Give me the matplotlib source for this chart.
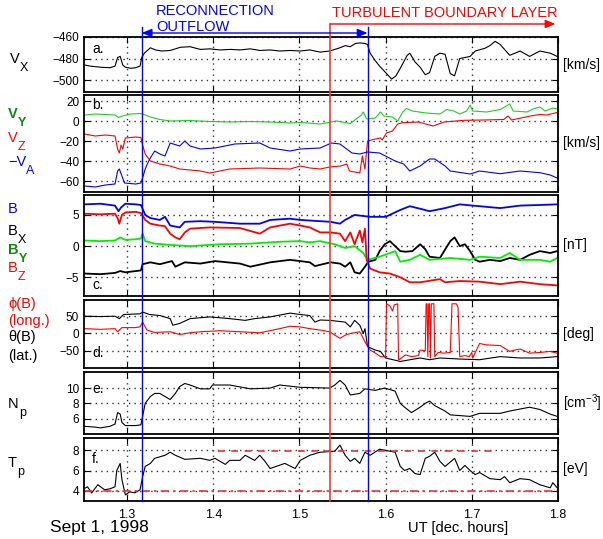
import numpy as np
import matplotlib
matplotlib.use('Agg')
import matplotlib.pyplot as plt
import matplotlib.transforms as mtrans
from matplotlib.lines import Line2D
from matplotlib.patches import FancyArrowPatch

plt.rcParams['font.family'] = ['Liberation Sans', 'DejaVu Sans']
plt.rcParams['mathtext.fontset'] = 'custom'
plt.rcParams['mathtext.rm'] = 'Liberation Sans'
plt.rcParams['mathtext.it'] = 'Liberation Sans'
plt.rcParams['mathtext.bf'] = 'Liberation Sans:bold'
plt.rcParams['axes.unicode_minus'] = True

# event times (UT, decimal hours)
t_out_start = 1.317
t_out_end = 1.579
t_tbl_start = 1.536
t_tbl_end = 1.797

# panel a: Vx
t_vx = [1.251, 1.257, 1.269, 1.280, 1.286, 1.289, 1.292, 1.295, 1.298, 1.304, 1.310, 1.315, 1.317, 1.320,
        1.327, 1.333, 1.340, 1.350, 1.362, 1.373, 1.385, 1.396, 1.408, 1.420, 1.431, 1.443, 1.454, 1.466,
        1.477, 1.489, 1.501, 1.512, 1.524, 1.535, 1.547, 1.553, 1.559, 1.565, 1.570, 1.576, 1.579, 1.582,
        1.588, 1.593, 1.600, 1.607, 1.612, 1.617, 1.625, 1.628, 1.634, 1.640, 1.646, 1.651, 1.657, 1.663,
        1.669, 1.675, 1.680, 1.686, 1.698, 1.704, 1.715, 1.721, 1.727, 1.733, 1.744, 1.756, 1.767, 1.779,
        1.791, 1.799]
vx = [-486, -487, -488, -488.5, -487, -479, -478, -486, -488, -489, -488.5, -487, -479, -475,
      -470, -472, -473, -472.5, -469.5, -469, -471.5, -471, -472, -471.5, -472, -471, -472.5, -472,
      -473, -472.5, -473, -472, -474, -473, -470, -468, -469, -466, -465.5, -466, -467, -475,
      -482, -487, -493, -499, -496, -489, -477, -475, -483, -488, -495, -493, -478, -475,
      -476, -494, -496, -480, -478, -473, -470.5, -468, -464, -467, -477, -473, -478, -473,
      -475, -478]

# panel b: Vy, Vz, -VA
t_vy = [1.251, 1.263, 1.275, 1.286, 1.290, 1.295, 1.304, 1.315, 1.318, 1.327, 1.338, 1.350, 1.373, 1.396,
        1.420, 1.443, 1.466, 1.489, 1.501, 1.524, 1.543, 1.559, 1.572, 1.574, 1.578, 1.588, 1.594, 1.598,
        1.608, 1.614, 1.620, 1.624, 1.631, 1.647, 1.663, 1.671, 1.679, 1.686, 1.694, 1.698, 1.701, 1.717,
        1.733, 1.744, 1.748, 1.764, 1.771, 1.779, 1.785, 1.794, 1.799]
vy = [6, 7, 6.5, 6, 3.5, 5, 7, 7.5, 7, 4, 1.5, 0, 0.5, -0.5,
      -1, -0.5, -1, -2, -1.5, -3, 0, -2.5, 6, 9, 2, 3, 9, 5,
      4, 0, 9, 12.5, 10, 8, 7, 11.5, 10, 7, 10, 16, 10, 9,
      11.5, 17, 10, 9, 12, 14, 10, 13, 12]

t_vz = [1.251, 1.263, 1.275, 1.286, 1.289, 1.291, 1.293, 1.295, 1.298, 1.310, 1.316, 1.318, 1.321, 1.327,
        1.338, 1.350, 1.361, 1.385, 1.396, 1.419, 1.454, 1.489, 1.501, 1.512, 1.524, 1.535, 1.548, 1.555,
        1.558, 1.570, 1.573, 1.576, 1.579, 1.588, 1.594, 1.596, 1.601, 1.608, 1.614, 1.620, 1.638, 1.655,
        1.668, 1.691, 1.714, 1.737, 1.742, 1.746, 1.768, 1.779, 1.787, 1.799]
vz = [-13, -15, -14, -15, -28, -32, -24, -28, -17, -16, -16.5, -24, -33, -40,
      -43, -45, -48, -50, -52, -48, -47, -48, -45, -47, -48, -46, -45, -43,
      -50, -52, -35, -48, -20, -18, -17, -19, -12, -10, -3, -1.7, -1, -5,
      -1, 0.7, 1, 1.5, 5, 1, 5, 6.5, 6, 8.5]

t_va = [1.251, 1.263, 1.275, 1.286, 1.289, 1.291, 1.294, 1.297, 1.310, 1.316, 1.318, 1.321, 1.324, 1.327,
        1.332, 1.338, 1.344, 1.350, 1.361, 1.367, 1.373, 1.385, 1.402, 1.425, 1.454, 1.466, 1.489, 1.501,
        1.524, 1.537, 1.547, 1.561, 1.570, 1.579, 1.593, 1.611, 1.621, 1.628, 1.640, 1.651, 1.657, 1.669,
        1.675, 1.698, 1.709, 1.733, 1.756, 1.779, 1.791, 1.799]
va = [-65, -66, -64, -63, -50, -48, -55, -62, -63, -62, -57, -48, -42, -37,
      -30, -33, -35, -22, -25, -20, -25, -28, -27, -23, -22, -27, -30, -28,
      -27, -22, -23, -32, -33, -31, -32, -40, -43, -50, -45, -38, -38, -45,
      -50, -53, -50, -52.7, -50, -51.7, -54, -57]

# panel c: |B|, Bx, By, Bz
t_bt = [1.251, 1.269, 1.286, 1.290, 1.293, 1.298, 1.310, 1.316, 1.318, 1.321, 1.327, 1.338, 1.344, 1.350,
        1.361, 1.367, 1.385, 1.402, 1.431, 1.454, 1.466, 1.489, 1.501, 1.524, 1.536, 1.547, 1.553, 1.564,
        1.582, 1.600, 1.617, 1.628, 1.640, 1.651, 1.669, 1.686, 1.709, 1.733, 1.756, 1.779, 1.799]
bt = [6.7, 6.8, 6.5, 5.6, 6.2, 6.8, 6.7, 6.6, 6.0, 5.0, 4.5, 4.2, 4.7, 3.3,
      3.0, 3.9, 4.0, 3.9, 3.6, 3.6, 4.2, 4.4, 4.2, 4.0, 3.9, 3.6, 4.2, 5.0,
      4.7, 4.7, 5.8, 6.4, 6.0, 5.6, 6.1, 6.7, 6.4, 6.1, 6.5, 6.6, 6.7]

t_bz = [1.251, 1.269, 1.286, 1.289, 1.291, 1.294, 1.298, 1.310, 1.316, 1.318, 1.321, 1.327, 1.338, 1.344,
        1.350, 1.356, 1.361, 1.367, 1.373, 1.396, 1.431, 1.454, 1.466, 1.489, 1.501, 1.512, 1.524, 1.536,
        1.547, 1.553, 1.559, 1.564, 1.570, 1.573, 1.576, 1.578, 1.582, 1.593, 1.605, 1.617, 1.628, 1.640,
        1.663, 1.669, 1.686, 1.709, 1.733, 1.756, 1.779, 1.799]
bz = [5.2, 5.1, 5.2, 4.5, 3.6, 5.0, 5.4, 5.5, 5.3, 4.9, 4.2, 3.6, 3.3, 3.2,
      2.0, 1.4, 1.1, 2.2, 2.8, 3.0, 2.9, 2.0, 3.0, 3.6, 3.3, 3.0, 2.2, 2.2,
      2.0, 0.8, 2.2, 0.3, 2.5, 0.6, 2.8, -2.2, -3.6, -4.2, -4.4, -5.0, -5.8, -5.8,
      -5.3, -5.8, -5.6, -5.7, -6.1, -5.7, -6.1, -6.3]

t_by = [1.251, 1.269, 1.286, 1.292, 1.298, 1.310, 1.316, 1.318, 1.321, 1.332, 1.350, 1.373, 1.408, 1.443,
        1.477, 1.501, 1.512, 1.524, 1.541, 1.553, 1.564, 1.574, 1.579, 1.593, 1.605, 1.611, 1.617, 1.628,
        1.640, 1.651, 1.675, 1.698, 1.709, 1.733, 1.744, 1.756, 1.779, 1.791, 1.799]
by = [0.9, 0.8, 0.9, 1.4, 1.0, 1.1, 1.2, 2.0, 0.8, 0.4, 0.2, 0.0, 0.3, 0.4,
      0.7, 0.8, 0.6, 0.8, 0.3, -0.3, 0.0, -1.1, -2.2, -1.7, -1.1, -0.8, -2.5, -2.2,
      -1.4, -2.2, -1.9, -2.2, -1.7, -1.9, -1.1, -2.2, -2.2, -2.5, -1.9]

t_bx = [1.251, 1.269, 1.286, 1.292, 1.298, 1.310, 1.316, 1.318, 1.327, 1.338, 1.352, 1.356, 1.367, 1.385,
        1.402, 1.431, 1.443, 1.466, 1.489, 1.501, 1.512, 1.518, 1.536, 1.547, 1.553, 1.559, 1.564, 1.570,
        1.576, 1.580, 1.588, 1.593, 1.599, 1.605, 1.611, 1.617, 1.623, 1.631, 1.640, 1.646, 1.651, 1.663,
        1.675, 1.680, 1.686, 1.692, 1.698, 1.704, 1.709, 1.721, 1.733, 1.744, 1.756, 1.767, 1.779, 1.791,
        1.799]
bx = [-4.4, -4.5, -4.3, -4.0, -4.2, -4.0, -3.9, -2.9, -2.6, -2.9, -2.4, -3.3, -2.6, -2.8,
      -2.4, -2.8, -3.3, -2.6, -2.2, -2.4, -2.6, -3.2, -2.6, -2.8, -3.3, -2.6, -4.2, -4.4,
      -3.3, -2.5, -2.2, -0.8, 0.3, 0.8, 0.0, -0.8, -0.9, -0.8, 0.3, -0.5, -1.7, -1.9,
      0.8, 1.4, 0.0, 0.3, -0.8, -2.2, -2.5, -2.2, -2.4, -1.9, -2.2, -1.4, -0.8, -1.1,
      -0.8]

# panel d: theta (lat.), phi (long.)
t_th = [1.251, 1.269, 1.286, 1.291, 1.296, 1.315, 1.318, 1.326, 1.338, 1.350, 1.353, 1.361, 1.373, 1.396,
        1.419, 1.437, 1.448, 1.466, 1.489, 1.501, 1.512, 1.518, 1.524, 1.535, 1.553, 1.559, 1.564, 1.570,
        1.574, 1.576, 1.579, 1.588, 1.594, 1.600, 1.617, 1.640, 1.651, 1.663, 1.686, 1.709, 1.733, 1.756,
        1.779, 1.799]
theta = [50, 49, 50, 43, 55, 57, 62, 55, 52, 43, 24, 29, 43, 48,
         43, 38, 43, 48, 59, 55, 52, 33, 39, 38, 33, 19, 38, 24,
         0, 14, -38, -48, -52, -71, -81, -71, -76, -71, -74, -76, -67, -71,
         -71, -67]

t_ph = [1.251, 1.269, 1.286, 1.289, 1.294, 1.309, 1.315, 1.318, 1.323, 1.332, 1.350, 1.361, 1.373, 1.385,
        1.408, 1.431, 1.454, 1.477, 1.489, 1.501, 1.512, 1.524, 1.535, 1.547, 1.553, 1.559, 1.570, 1.574,
        1.577, 1.582, 1.587, 1.594, 1.600, 1.601, 1.605, 1.608, 1.610, 1.614, 1.615, 1.623, 1.630, 1.638,
        1.640, 1.646, 1.647, 1.648, 1.649, 1.650, 1.651, 1.652, 1.653, 1.656, 1.657, 1.661, 1.667, 1.675,
        1.677, 1.682, 1.684, 1.686, 1.692, 1.697, 1.700, 1.701, 1.709, 1.717, 1.733, 1.744, 1.750, 1.756,
        1.767, 1.779, 1.791, 1.799]
phi = [14, 12, 14, 5, 17, 17, 19, 33, 10, 3, 5, -3, 2, 5,
       8, 5, 2, 14, 21, 19, 14, 10, 5, -14, -5, 0, 5, -14,
       -29, -48, -55, -67, -67, 86, 80, 65, 83, 86, -77, -62, -67, -64,
       -48, -50, 86, 86, -67, 86, 86, -71, 86, 86, -67, -55, -57, -55,
       86, 86, 76, -67, -64, -67, -55, -71, -29, -33, -35, -52, -48, -45,
       -57, -55, -52, -57]

# panel e: Np
t_np = [1.251, 1.263, 1.269, 1.280, 1.286, 1.289, 1.292, 1.294, 1.298, 1.310, 1.316, 1.318, 1.321, 1.327,
        1.332, 1.338, 1.344, 1.350, 1.356, 1.361, 1.367, 1.373, 1.385, 1.396, 1.399, 1.419, 1.443, 1.466,
        1.477, 1.501, 1.535, 1.541, 1.547, 1.553, 1.559, 1.570, 1.576, 1.588, 1.599, 1.611, 1.617, 1.622,
        1.630, 1.640, 1.646, 1.651, 1.657, 1.669, 1.675, 1.698, 1.709, 1.733, 1.744, 1.767, 1.779, 1.791,
        1.799]
n_p = [5.0, 4.9, 4.8, 5.0, 5.3, 6.8, 6.6, 5.5, 5.1, 5.1, 5.2, 6.3, 8.0, 8.9,
       9.3, 9.3, 8.9, 8.5, 9.3, 10.2, 10.6, 10.4, 9.9, 9.9, 10.4, 10.4, 9.9, 10.0,
       10.4, 10.1, 10.0, 10.4, 11.0, 10.4, 9.1, 9.3, 9.9, 9.7, 10.0, 9.6, 8.0, 7.5,
       6.8, 7.5, 8.0, 8.3, 7.7, 7.0, 6.5, 6.3, 6.7, 6.7, 7.0, 7.5, 7.2, 6.6,
       6.3]

# panel f: Tp
t_tp = [1.251, 1.254, 1.259, 1.266, 1.274, 1.280, 1.286, 1.288, 1.292, 1.294, 1.298, 1.303, 1.309, 1.315,
        1.318, 1.321, 1.327, 1.332, 1.344, 1.350, 1.356, 1.367, 1.385, 1.396, 1.402, 1.414, 1.419, 1.431,
        1.437, 1.448, 1.454, 1.460, 1.466, 1.483, 1.495, 1.501, 1.512, 1.524, 1.541, 1.547, 1.553, 1.559,
        1.564, 1.570, 1.576, 1.582, 1.593, 1.605, 1.611, 1.617, 1.622, 1.628, 1.634, 1.640, 1.646, 1.651,
        1.657, 1.663, 1.669, 1.680, 1.686, 1.692, 1.698, 1.704, 1.709, 1.721, 1.733, 1.738, 1.744, 1.756,
        1.767, 1.779, 1.791, 1.794, 1.799]
t_p = [4.25, 4.4, 3.8, 4.6, 4.1, 4.2, 4.4, 6.0, 6.7, 5.1, 3.6, 3.9, 3.8, 4.1,
       5.4, 6.4, 6.7, 7.2, 7.5, 7.8, 7.5, 7.1, 7.2, 7.0, 7.2, 6.6, 7.0, 7.0,
       7.5, 7.0, 7.5, 6.9, 6.2, 6.7, 6.2, 7.0, 7.5, 7.8, 7.9, 8.5, 7.5, 6.9,
       7.2, 6.7, 7.8, 7.5, 8.1, 7.9, 7.8, 6.4, 6.0, 6.2, 5.7, 5.6, 7.2, 7.4,
       7.8, 6.9, 6.4, 7.2, 6.0, 6.5, 6.0, 5.6, 5.8, 5.2, 5.1, 5.4, 4.8, 5.2,
       5.1, 4.6, 4.3, 4.8, 4.3]
tp_hi_level = 7.9
tp_hi_range = [1.405, 1.729]
tp_lo_level = 4.0

ylims = [(-511, -460), (-71, 26), (-8, 8.2), (-100, 97), (4.0, 12.1), (3.0, 9.2)]
yticks = [[-500, -480, -460], [-60, -40, -20, 0, 20], [-5, 0, 5], [-50, 0, 50], [6, 8, 10], [4, 6, 8]]
units = ['[km/s]', '[km/s]', '[nT]', '[deg]', '[cm$^{-3}$]', '[eV]']
letters = ['a.', 'b.', 'c.', 'd.', 'e.', 'f.']
letter_y = [0.71, 0.86, 0.07, 0.16, 0.66, 0.60]

W, H = 603, 539
fig = plt.figure(figsize=(6.03, 5.39), dpi=100)

# panel pixel extents (top, bottom)
rows = [(37, 92), (95, 192), (195, 296), (300, 368), (372, 434), (438, 501)]
x0, x1 = 84, 558
axes = []
for (top, bot) in rows:
    ax = fig.add_axes([x0 / W, 1 - bot / H, (x1 - x0) / W, (bot - top) / H])
    axes.append(ax)

for i, ax in enumerate(axes):
    ax.set_xlim(1.25, 1.8)
    ax.set_ylim(*ylims[i])
    ax.set_yticks(yticks[i])
    ax.set_xticks([1.3, 1.4, 1.5, 1.6, 1.7, 1.8])
    ax.set_axisbelow(True)
    ax.grid(True, which='major', linestyle=(0, (1, 3)), color='#333333', linewidth=1.0)
    ax.tick_params(direction='in', top=True, right=True, length=4, labelsize=8.5, width=0.8)
    for s in ax.spines.values():
        s.set_linewidth(1.3)
    if i < 5:
        ax.set_xticklabels([])
    ax.text(1.01, 0.5, units[i], transform=ax.transAxes, va='center', ha='left', fontsize=10)
    ax.text(0.017, letter_y[i], letters[i], transform=ax.transAxes, va='baseline', ha='left', fontsize=10)

lw = 0.8
axes[0].plot(t_vx, vx, color='black', lw=lw)
axes[1].plot(t_vy, vy, color='#22cc22', lw=lw)
axes[1].plot(t_vz, vz, color='red', lw=lw)
axes[1].plot(t_va, va, color='blue', lw=lw)
axes[2].plot(t_bt, bt, color='blue', lw=1.3)
axes[2].plot(t_bx, bx, color='black', lw=1.3)
axes[2].plot(t_by, by, color='#00ee00', lw=1.3)
axes[2].plot(t_bz, bz, color='red', lw=1.3)
axes[3].plot(t_th, theta, color='black', lw=lw)
axes[3].plot(t_ph, phi, color='red', lw=lw)
axes[4].plot(t_np, n_p, color='black', lw=lw)
axes[5].plot(t_tp, t_p, color='black', lw=lw)
axes[5].plot(tp_hi_range, [tp_hi_level, tp_hi_level], color='#ee3333', lw=1.2, ls=(0, (4, 4)))
axes[5].plot([1.25, 1.8], [tp_lo_level, tp_lo_level], color='#ee3333', lw=1.2, ls=(0, (5, 2.5, 1.5, 2.5)))

axes[5].tick_params(axis='x', labelsize=9, pad=6)

# vertical event lines and arrows across the whole figure
tr = mtrans.blended_transform_factory(axes[5].transData, fig.transFigure)
ybot = 1 - 501 / H
fig.add_artist(Line2D([t_out_start] * 2, [ybot, 1 - 27 / H], transform=tr, color='blue', lw=1.0, zorder=5))
fig.add_artist(Line2D([t_out_end] * 2, [ybot, 1 - 27 / H], transform=tr, color='blue', lw=1.0, zorder=5))
fig.add_artist(Line2D([t_tbl_start] * 2, [ybot, 1 - 24 / H], transform=tr, color='#ff3333', lw=1.2, zorder=5))

fig.add_artist(FancyArrowPatch((t_out_start, 1 - 33 / H), (t_out_end, 1 - 33 / H), transform=tr,
                               arrowstyle='<|-|>,head_length=6,head_width=2.5', color='blue', lw=1.0,
                               shrinkA=0, shrinkB=0, zorder=6))
fig.add_artist(FancyArrowPatch((t_tbl_start, 1 - 24 / H), (t_tbl_end, 1 - 24 / H), transform=tr,
                               arrowstyle='-|>,head_length=6,head_width=2.5', color='red', lw=1.0,
                               shrinkA=0, shrinkB=0, zorder=6))

fig.text(156 / W, 1 - 15 / H, 'RECONNECTION', color='blue', fontsize=10.5, va='baseline')
fig.text(156 / W, 1 - 31 / H, 'OUTFLOW', color='blue', fontsize=10.5, va='baseline')
fig.text(332 / W, 1 - 17 / H, 'TURBULENT BOUNDARY LAYER', color='red', fontsize=10.5, va='baseline')

# left-hand labels (main symbol plus a lowered subscript)
def lab(x, y, s, c='black', sub=None, dx=10, bold=False):
    w = 'bold' if bold else 'normal'
    fig.text(x / W, 1 - y / H, s, color=c, fontsize=10.5, va='baseline', ha='left', fontweight=w)
    if sub:
        fig.text((x + dx) / W, 1 - (y + 8) / H, sub, color=c, fontsize=9, va='baseline', ha='left',
                 fontweight=w)

lab(10, 63, 'V', sub='X')
lab(8, 118, 'V', '#118811', sub='Y', bold=True)
lab(8, 142, 'V', 'red', sub='Z')
lab(8, 166, '\u2212V', 'blue', sub='A', dx=18)
lab(8, 213, 'B', 'blue')
lab(8, 235, 'B', sub='X')
lab(8, 254, 'B', '#118811', sub='Y', dx=11, bold=True)
lab(8, 272, 'B', 'red', sub='Z')
lab(8, 308, '\u03d5(B)', 'red')
lab(8, 325, '(long.)', 'red')
lab(8, 341, '\u03b8(B)')
lab(8, 360, '(lat.)')
lab(8, 408, 'N', sub='p', dx=11)
lab(8, 467, 'T', sub='p', dx=9)

fig.text(50 / W, 1 - 532 / H, 'Sept 1, 1998', fontsize=12.5, va='baseline')
fig.text(408 / W, 1 - 532 / H, 'UT [dec. hours]', fontsize=10.5, va='baseline')

fig.savefig('out.png', dpi=100)
